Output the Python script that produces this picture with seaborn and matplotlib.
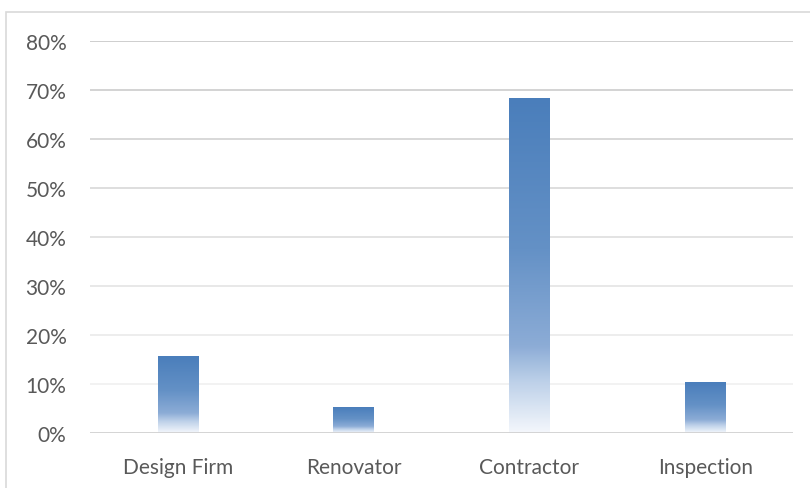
import numpy as np
import pandas as pd
import matplotlib
matplotlib.use("Agg")
import matplotlib.pyplot as plt
from matplotlib.colors import LinearSegmentedColormap
from matplotlib.patches import Rectangle
import seaborn as sns

categories = ["Design Firm", "Renovator", "Contractor", "Inspection"]
shares = [0.157, 0.053, 0.683, 0.104]
tick_values = [0.0, 0.1, 0.2, 0.3, 0.4, 0.5, 0.6, 0.7, 0.8]
tick_labels = ["0%", "10%", "20%", "30%", "40%", "50%", "60%", "70%", "80%"]

df = pd.DataFrame({"category": categories, "share": shares})

sns.set_theme(style="white")
plt.rcParams["font.family"] = ["Lato", "DejaVu Sans"]

fig = plt.figure(figsize=(8.1, 4.89), dpi=100)
ax = fig.add_axes([90 / 810, 1 - 434 / 489, 703 / 810, 392 / 489])

sns.barplot(data=df, x="category", y="share", width=0.23, color="#4f81bd",
            ax=ax, zorder=3)

ax.set_ylim(0, 0.8)
ax.set_xlim(-0.5, 3.5)

# vertical gradient fill: blue at the top of each bar fading to white at its base
grad = LinearSegmentedColormap.from_list(
    "bar_fade",
    [(0.0, (74 / 255, 126 / 255, 187 / 255)),
     (0.45, (100 / 255, 145 / 255, 198 / 255)),
     (0.74, (140 / 255, 172 / 255, 214 / 255)),
     (0.85, (190 / 255, 209 / 255, 233 / 255)),
     (1.0, (244 / 255, 247 / 255, 252 / 255))])
ramp = np.linspace(0, 1, 256).reshape(-1, 1)
for patch in ax.patches:
    x0 = patch.get_x()
    w = patch.get_width()
    h = patch.get_height()
    ax.imshow(ramp, cmap=grad, extent=(x0, x0 + w, 0, h), origin="upper",
              aspect="auto", zorder=3, interpolation="bilinear")
    patch.set_visible(False)

# horizontal gridlines, darker toward the top
top_c = np.array([198, 198, 198]) / 255
low_c = np.array([240, 240, 240]) / 255
for v in tick_values[1:]:
    t = (v - 0.1) / 0.7
    ax.axhline(v, color=tuple(low_c + (top_c - low_c) * t), lw=1.2, zorder=1)
ax.axhline(0, color="#d4d4d4", lw=1.4, zorder=4)

ax.set_yticks(tick_values)
ax.set_yticklabels(tick_labels)
ax.tick_params(axis="y", length=0, pad=17, labelsize=15, labelcolor="#595959")
ax.tick_params(axis="x", length=0, pad=17, labelsize=15, labelcolor="#595959")
ax.set_xlabel("")
ax.set_ylabel("")
for s in ax.spines.values():
    s.set_visible(False)
ax.grid(False)

# chart-area frame
fig.patches.append(Rectangle((5.5 / 810, -0.1), 1.2, 1.1 - 12.5 / 489,
                             transform=fig.transFigure, fill=False,
                             edgecolor="#d9d9d9", lw=1.2))

fig.savefig("out.png", dpi=100)
